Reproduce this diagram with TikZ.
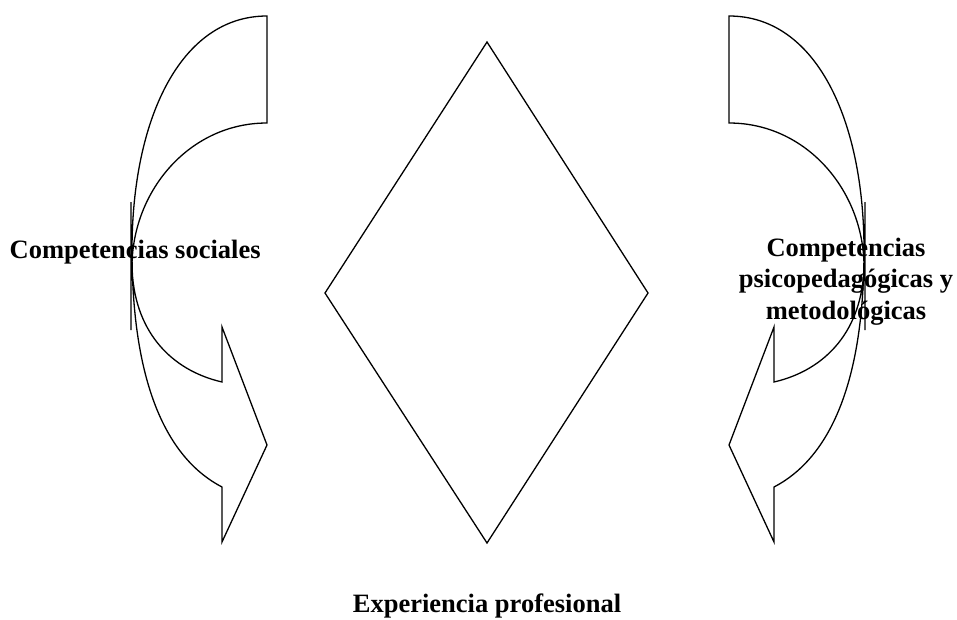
\documentclass[tikz,border=0pt]{standalone}
\usepackage{fontspec}
\setmainfont{Liberation Serif}
\begin{document}
\begin{tikzpicture}[x=1pt, y=-1pt, line width=1.3pt, line join=miter, font=\fontsize{26.5}{31.5}\selectfont\bfseries]
				\def\axis{996}
				\def\curvedarrow{(267,16) -- (267,123) .. controls (190,123) and (133,190) .. (132,265)
					.. controls (133,330) and (170,370) .. (222,382) -- (222,327) -- (267,445) -- (222,542) -- (222,487)
					.. controls (170,460) and (132,390) .. (132,250) .. controls (132,120) and (180,16) .. cycle
					(131,202) -- (131,330)}
				\useasboundingbox (0,0) rectangle (957,619);
				\draw \curvedarrow;
				\begin{scope}[xshift=\axis pt, xscale=-1]
					\draw \curvedarrow;
				\end{scope}
				\draw (487,42) -- (648,293) -- (487,543) -- (325,293) -- cycle;
				\node [anchor=base west, inner sep=0] (social) at (9,258) {Competencias sociales};
				\node [align=center, inner sep=0] (psico) at (846,281.5) {Competencias\\psicopedagógicas y\\metodológicas};
				\node [anchor=base, inner sep=0] (exper) at (487,612) {Experiencia profesional};
			\end{tikzpicture}
\end{document}
